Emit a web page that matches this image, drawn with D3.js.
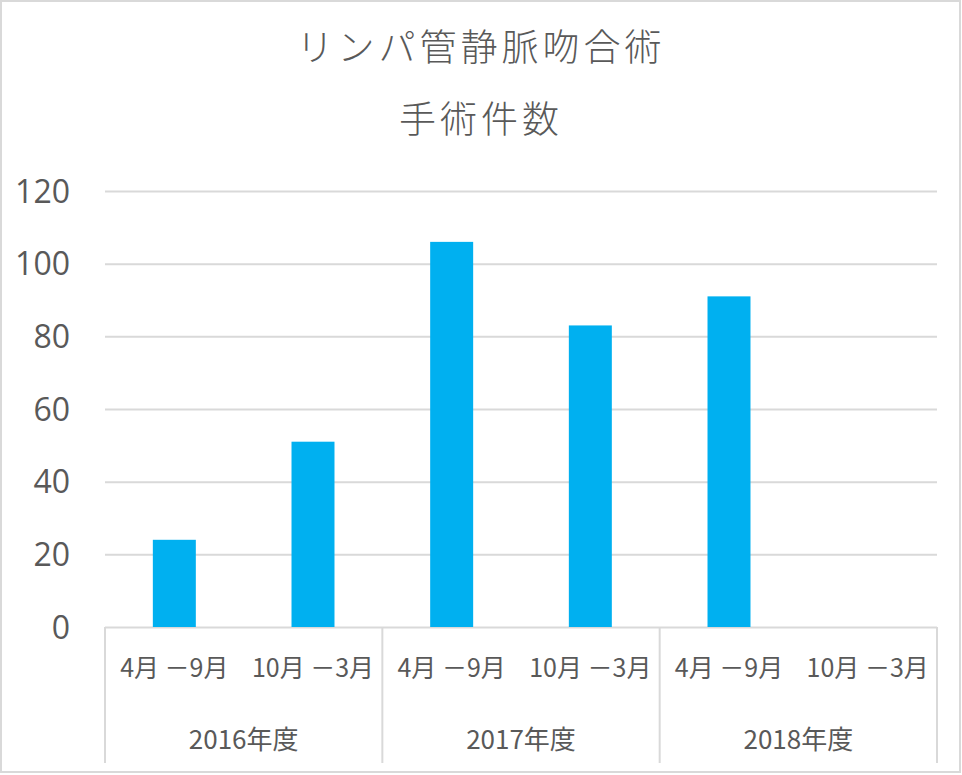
<!DOCTYPE html>
<html>
<head>
<meta charset="utf-8">
<script src="https://cdn.jsdelivr.net/npm/d3@7"></script>
<style>
  body { margin: 0; background: #fff; }
  text { fill: #595959; }
</style>
</head>
<body>
<div id="chart"></div>
<script>
// data
var years = ["2016年度", "2017年度", "2018年度"];
var halves = ["4月 －9月", "10月 －3月"];
var counts = [24, 51, 106, 83, 91, 0];
var yTicks = [0, 20, 40, 60, 80, 100, 120];
var titleLines = ["リンパ管静脈吻合術", "手術件数"];

var width = 962, height = 775;
var plot = {left: 105, right: 937, top: 191, bottom: 627};

// one row per bar: year + half
var rows = [];
years.forEach(function(y, i) {
  halves.forEach(function(h, j) {
    rows.push({key: y + "|" + h, year: y, half: h, value: counts[i * 2 + j]});
  });
});

var svg = d3.select("#chart").append("svg")
    .attr("width", width)
    .attr("height", height);

// outer frame
svg.append("rect")
    .attr("x", 1).attr("y", 1)
    .attr("width", width - 3).attr("height", height - 4)
    .attr("fill", "none")
    .attr("stroke", "#d9d9d9")
    .attr("stroke-width", 2);

var x = d3.scaleBand()
    .domain(rows.map(function(d) { return d.key; }))
    .range([plot.left, plot.right])
    .paddingInner(0.69)
    .paddingOuter(0.345);

var xYear = d3.scaleBand()
    .domain(years)
    .range([plot.left, plot.right]);

var y = d3.scaleLinear()
    .domain([0, 120])
    .range([plot.bottom, plot.top]);

// gridlines + y labels
var yAxis = d3.axisLeft(y)
    .tickValues(yTicks)
    .tickSize(-(plot.right - plot.left))
    .tickPadding(35);

var gy = svg.append("g")
    .attr("transform", "translate(" + plot.left + ",0)")
    .call(yAxis);
gy.select(".domain").remove();
gy.selectAll(".tick line").attr("stroke", "#d9d9d9").attr("stroke-width", 2);
gy.selectAll(".tick text")
    .attr("font-family", "'Open Sans', sans-serif")
    .attr("font-size", 32)
    .attr("dy", "0.35em")
    .style("fill", "#595959");

// bars
svg.append("g").selectAll("rect")
    .data(rows)
  .enter().append("rect")
    .attr("x", function(d) { return x(d.key); })
    .attr("width", x.bandwidth())
    .attr("y", function(d) { return y(d.value); })
    .attr("height", function(d) { return y(0) - y(d.value); })
    .attr("fill", "#00b0f0");

// category separators below the axis
var sepX = years.map(function(d) { return xYear(d); }).concat([plot.right]);
svg.append("g").selectAll("line")
    .data(sepX)
  .enter().append("line")
    .attr("x1", function(d) { return d; })
    .attr("x2", function(d) { return d; })
    .attr("y1", plot.bottom)
    .attr("y2", 763)
    .attr("stroke", "#d9d9d9")
    .attr("stroke-width", 2);

// half-year labels
svg.append("g").selectAll("text")
    .data(rows)
  .enter().append("text")
    .attr("x", function(d) { return x(d.key) + x.bandwidth() / 2; })
    .attr("y", 668)
    .attr("dy", "0.35em")
    .attr("text-anchor", "middle")
    .attr("font-family", "'Noto Sans CJK JP', sans-serif")
    .attr("font-size", 25)
    .text(function(d) { return d.half; });

// fiscal year labels
svg.append("g").selectAll("text")
    .data(years)
  .enter().append("text")
    .attr("x", function(d) { return xYear(d) + xYear.bandwidth() / 2; })
    .attr("y", 740)
    .attr("dy", "0.35em")
    .attr("text-anchor", "middle")
    .attr("font-family", "'Noto Sans CJK JP', sans-serif")
    .attr("font-size", 26)
    .text(function(d) { return d; });

// title
svg.append("g").selectAll("text")
    .data(titleLines)
  .enter().append("text")
    .attr("x", width / 2)
    .attr("y", function(d, i) { return 48 + i * 72; })
    .attr("dy", "0.35em")
    .attr("text-anchor", "middle")
    .attr("font-family", "'Noto Sans CJK JP', sans-serif")
    .attr("font-weight", 300)
    .attr("font-size", 37)
    .attr("letter-spacing", 4)
    .text(function(d) { return d; });
</script>
</body>
</html>
